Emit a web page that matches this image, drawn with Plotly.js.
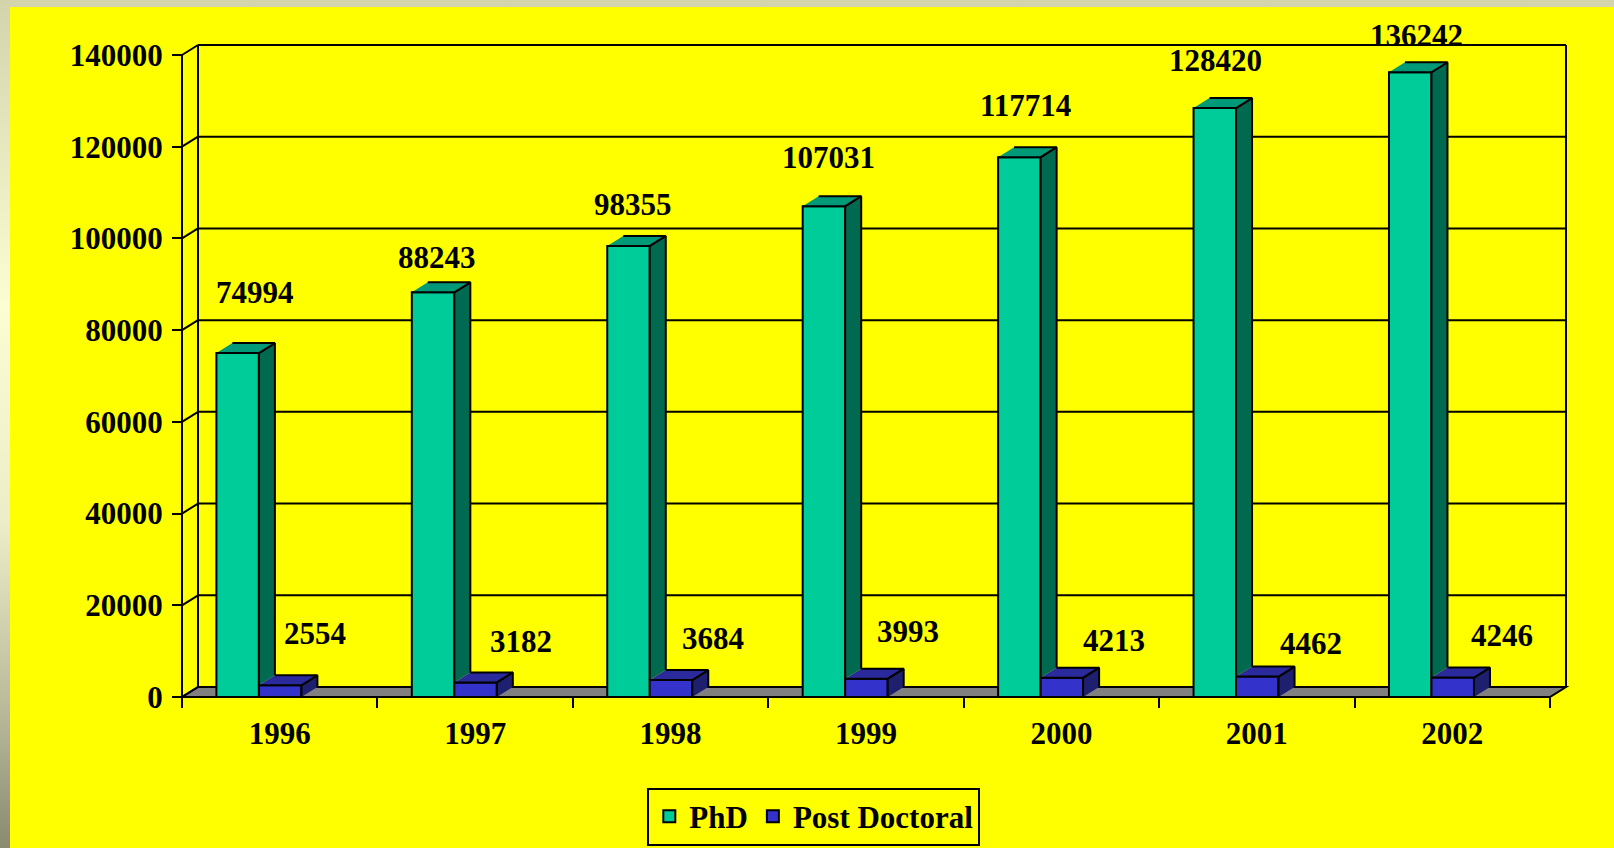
<!DOCTYPE html>
<html>
<head>
<meta charset="utf-8">
<script src="https://cdn.plot.ly/plotly-3.0.1.min.js"></script>
<style>
  html, body { margin: 0; padding: 0; width: 1614px; height: 848px; overflow: hidden; }
  body { background: linear-gradient(to bottom, #d4d4ac 0%, #fdfdd4 36%, #ececc6 62%, #b9b99a 84%, #8a8a70 100%); position: relative; }
  #yellow { position: absolute; left: 10px; top: 7px; width: 1604px; height: 841px; background: #ffff00; }
  #chart { position: absolute; left: 0; top: 0; width: 1614px; height: 848px; }
</style>
</head>
<body>
<div id="yellow"></div>
<div id="chart"></div>
<script>
// ---- data ----
const YEARS = ['1996', '1997', '1998', '1999', '2000', '2001', '2002'];
const PHD = [74994, 88243, 98355, 107031, 117714, 128420, 136242];
const POSTDOC = [2554, 3182, 3684, 3993, 4213, 4462, 4246];
const Y_TICKS = [0, 20000, 40000, 60000, 80000, 100000, 120000, 140000];

// ---- layout / style constants ----
const FONT = 'Liberation Serif, Times New Roman, serif';
const FS = 31;
const FRONT_W = 1368, FRONT_H = 642;   // px of the front plane
const DEPTH_X = 16, DEPTH_Y = 10;      // px 3D depth offset
const PAD = 6;
const YMAX = Y_TICKS[Y_TICKS.length - 1];
const NCAT = YEARS.length;
const sx = FRONT_W / NCAT, sy = FRONT_H / YMAX;
const DXu = DEPTH_X / sx, DYu = DEPTH_Y / sy;
const padX = PAD / sx, padY = PAD / sy;
const PLOT_W = FRONT_W + DEPTH_X + 2 * PAD;
const PLOT_H = FRONT_H + DEPTH_Y + 2 * PAD;
const M_L = 176, M_T = 39;

const BAR_W = 0.2175, PHD_OFF = -0.324, POST_OFF = -0.1065;
const PHD_COL = ['#00cc99', '#009a78', '#006a50'];   // front, top, side
const POST_COL = ['#3333cc', '#2a2a9c', '#1f1f6f'];
// label nudges (px) as placed in the original
const PHD_LBL_DX = [17, 4, 4, 5, 6, 1, 6];
const PHD_LBL_DY = [61, 35, 41, 49, 52, 48, 37];
const POST_LBL_DX = [35, 45, 42, 42, 52, 54, 49];
const POST_LBL_DY = [52, 41, 42, 47, 37, 33, 42];

const xIdx = YEARS.map((_, i) => i);

function faces(vals, off, lowerVals) {
  const top = {x: [], y: []}, side = {x: [], y: []};
  vals.forEach((v, i) => {
    const xl = i + off, xr = i + off + BAR_W;
    top.x.push(xl, xr, xr + DXu, xl + DXu, null);
    top.y.push(v, v, v + DYu, v + DYu, null);
    const b = lowerVals ? lowerVals[i] : 0;
    side.x.push(xr, xr, xr + DXu, xr + DXu, null);
    side.y.push(b, v, v + DYu, b + DYu, null);
  });
  return {top, side};
}

const phdF = faces(PHD, PHD_OFF, POSTDOC);
const postF = faces(POSTDOC, POST_OFF, null);

function faceTrace(f, color) {
  return {type: 'scatter', mode: 'lines', x: f.x, y: f.y, fill: 'toself', fillcolor: color,
          line: {color: '#000', width: 2}, hoverinfo: 'skip', showlegend: false, connectgaps: false};
}

const traces = [
  {type: 'bar', name: 'PhD', x: xIdx, y: PHD, width: BAR_W, offset: PHD_OFF,
   marker: {color: PHD_COL[0], line: {color: '#000', width: 2}}},
  {type: 'bar', name: 'Post Doctoral', x: xIdx, y: POSTDOC, width: BAR_W, offset: POST_OFF,
   marker: {color: POST_COL[0], line: {color: '#000', width: 2}}},
  faceTrace(phdF.side, PHD_COL[2]),
  faceTrace(phdF.top, PHD_COL[1]),
  faceTrace(postF.side, POST_COL[2]),
  faceTrace(postF.top, POST_COL[1])
];

// ---- walls, floor ----
const L = -0.5, R = NCAT - 0.5;
const shapes = [];
shapes.push({type: 'path', layer: 'below', xref: 'x', yref: 'y',
  path: `M${L},0 L${R},0 L${R + DXu},${DYu} L${L + DXu},${DYu} Z`,
  fillcolor: '#808080', line: {color: '#000', width: 2}});
Y_TICKS.forEach(v => {
  shapes.push({type: 'line', layer: 'below', xref: 'x', yref: 'y',
    x0: L + DXu, x1: R + DXu, y0: v + DYu, y1: v + DYu, line: {color: '#000', width: 2}});
  shapes.push({type: 'line', layer: 'below', xref: 'x', yref: 'y',
    x0: L, x1: L + DXu, y0: v, y1: v + DYu, line: {color: '#000', width: 2}});
});
[L + DXu, R + DXu].forEach(xv => shapes.push({type: 'line', layer: 'below', xref: 'x', yref: 'y',
  x0: xv, x1: xv, y0: DYu, y1: YMAX + DYu, line: {color: '#000', width: 2}}));
shapes.push({type: 'line', layer: 'above', xref: 'x', yref: 'y',
  x0: L, x1: L, y0: 0, y1: YMAX, line: {color: '#000', width: 2}});

// ---- data labels ----
const lblFont = {family: FONT, size: FS, color: '#000', weight: 'bold'};
const annotations = [];
PHD.forEach((v, i) => annotations.push({x: i + PHD_OFF + BAR_W / 2, y: v, xref: 'x', yref: 'y',
  text: String(v), showarrow: false, xanchor: 'center', yanchor: 'middle',
  xshift: PHD_LBL_DX[i], yshift: PHD_LBL_DY[i], font: lblFont}));
POSTDOC.forEach((v, i) => annotations.push({x: i + POST_OFF + BAR_W / 2, y: v, xref: 'x', yref: 'y',
  text: String(v), showarrow: false, xanchor: 'center', yanchor: 'middle',
  xshift: POST_LBL_DX[i], yshift: POST_LBL_DY[i], font: lblFont}));

const boundaries = YEARS.map((_, i) => i - 0.5).concat([NCAT - 0.5]);

const layout = {
  width: 1614, height: 848,
  margin: {l: M_L, r: 1614 - M_L - PLOT_W, t: M_T, b: 848 - M_T - PLOT_H, pad: 0, autoexpand: false},
  paper_bgcolor: 'rgba(0,0,0,0)', plot_bgcolor: 'rgba(0,0,0,0)',
  barmode: 'overlay',
  showlegend: true,
  font: {family: FONT, size: FS, color: '#000', weight: 'bold'},
  xaxis: {type: 'linear', range: [L - padX, R + DXu + padX], anchor: 'free', position: PAD / PLOT_H,
    tickmode: 'array', tickvals: xIdx, ticktext: YEARS, ticks: '', showgrid: false, zeroline: false,
    showline: false, fixedrange: true, ticklabelstandoff: 15, automargin: false,
    tickfont: {family: FONT, size: FS, color: '#000', weight: 'bold'},
    minor: {tickmode: 'array', tickvals: boundaries, ticks: 'outside', ticklen: 10, tickwidth: 2,
            tickcolor: '#000', showgrid: false}},
  yaxis: {range: [-padY, YMAX + DYu + padY], anchor: 'free', position: PAD / PLOT_W,
    tickmode: 'array', tickvals: Y_TICKS, ticktext: Y_TICKS.map(String),
    ticks: 'outside', ticklen: 10, tickwidth: 2, tickcolor: '#000', automargin: false,
    showgrid: false, zeroline: false, showline: false, fixedrange: true, ticklabelstandoff: 3,
    tickfont: {family: FONT, size: FS, color: '#000', weight: 'bold'}},
  legend: {orientation: 'h', x: (813.8 - M_L) / PLOT_W, xanchor: 'center',
    y: (M_T + PLOT_H - 816.5) / PLOT_H, yanchor: 'middle',
    bgcolor: '#ffff00', bordercolor: '#000', borderwidth: 2,
    font: {family: FONT, size: FS, color: '#000', weight: 'bold'}, traceorder: 'normal'},
  shapes: shapes,
  annotations: annotations
};

Plotly.newPlot('chart', traces, layout, {displayModeBar: false, staticPlot: true});
</script>
</body>
</html>
